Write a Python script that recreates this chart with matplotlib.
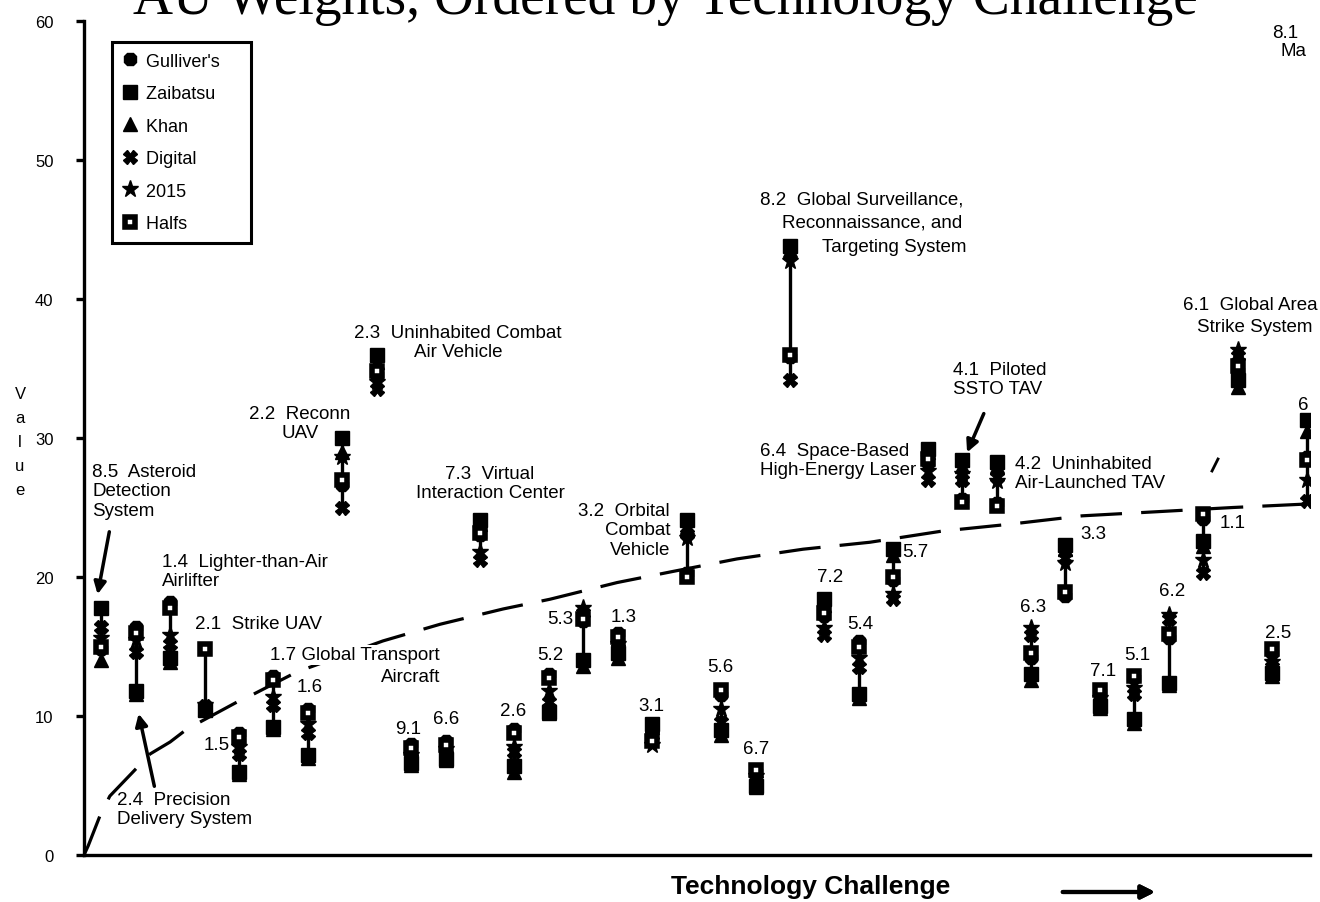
import numpy as np
import matplotlib
matplotlib.use("Agg")
import matplotlib.pyplot as plt
from matplotlib.lines import Line2D

# AU ids, left to right (ordered by technology challenge)
au_ids = ["8.5", "2.4", "1.4", "2.1", "1.5", "1.7", "1.6", "2.2", "2.3", "9.1",
          "6.6", "7.3", "2.6", "5.2", "5.3", "1.3", "3.1", "3.2", "5.6", "6.7",
          "8.2", "7.2", "5.4", "5.7", "6.4", "4.1", "4.2", "6.3", "3.3", "7.1",
          "5.1", "6.2", "1.1", "6.1", "2.5", "6.x"]

# weights per alternate future
gulliver = [14.8, 16.4, 18.2, 10.6, 8.8, 12.9, 10.5, 26.6, 34.5, 8.0,
            8.2, 23.0, 9.1, 13.0, 16.8, 16.0, 8.9, 20.3, 11.5, 6.0,
            35.8, 17.2, 15.4, 19.8, 28.2, 25.6, 25.3, 14.2, 18.6, 11.7,
            12.7, 15.6, 24.2, 34.8, 14.5, 28.6]
zaibatsu = [17.8, 11.8, 14.2, 10.4, 6.0, 9.2, 7.2, 30.0, 36.0, 6.6,
            6.9, 24.1, 6.4, 10.3, 14.0, 14.5, 9.4, 24.1, 9.0, 5.0,
            43.8, 18.4, 11.6, 22.0, 29.2, 28.4, 28.3, 13.0, 22.3, 10.7,
            9.8, 12.4, 22.6, 34.2, 13.1, 31.3]
khan = [14.0, 11.6, 13.9, 10.5, 5.8, 9.1, 7.0, 29.0, 35.5, 6.5,
        6.8, 23.8, 6.0, 10.2, 13.6, 14.2, 9.2, 23.6, 8.6, 4.9,
        43.5, 18.0, 11.3, 21.6, 29.0, 28.0, 28.0, 12.6, 22.0, 10.6,
        9.5, 12.2, 22.2, 33.7, 12.9, 30.5]
digital = [16.4, 14.6, 15.2, 10.7, 7.3, 10.8, 8.8, 25.0, 33.5, 7.0,
           7.2, 21.2, 7.4, 11.0, 17.4, 14.9, 8.6, 23.1, 9.6, 5.4,
           34.2, 15.8, 13.5, 18.4, 27.0, 27.0, 27.2, 15.8, 21.4, 11.0,
           11.6, 17.0, 20.3, 35.9, 13.5, 25.5]
y2015 = [15.6, 15.5, 15.8, 10.8, 7.8, 11.4, 9.4, 28.6, 34.0, 7.2,
         7.6, 21.8, 7.8, 11.8, 17.8, 15.2, 7.9, 22.8, 10.5, 5.7,
         42.7, 16.3, 14.2, 18.8, 27.6, 27.4, 26.9, 16.3, 21.0, 11.3,
         12.0, 17.3, 21.2, 36.3, 13.9, 27.0]
halfs = [15.0, 16.0, 17.8, 14.8, 8.5, 12.6, 10.2, 27.0, 34.8, 7.7,
         7.9, 23.2, 8.8, 12.7, 17.0, 15.7, 8.2, 20.0, 11.9, 6.1,
         36.0, 17.4, 15.0, 20.0, 28.5, 25.4, 25.1, 14.5, 18.9, 11.9,
         12.9, 15.9, 24.5, 35.2, 14.8, 28.4]
scenarios = ["Gulliver's", "Zaibatsu", "Khan", "Digital", "2015", "Halfs"]

# hand-drawn dashed trend curve
trend_x = [-0.5, -0.38, -0.04, 0.25, 0.92, 1.42, 2.0, 2.49, 3.94, 4.32, 5.68,
           8.18, 9.84, 11.67, 13.03, 14.98, 16.6, 18.46, 20.38, 22.32, 24.41,
           26.39, 28.48, 30.68, 32.86, 35.0]
trend_y = [0.0, 0.65, 2.8, 4.24, 5.97, 7.27, 8.13, 9.06, 11.0, 11.44, 13.17,
           15.4, 16.6, 17.7, 18.4, 19.6, 20.4, 21.3, 22.0, 22.5, 23.3,
           23.8, 24.4, 24.7, 25.0, 25.25]

W, H = 1320, 903
SANS = "Liberation Sans"
fig = plt.figure(figsize=(W / 100, H / 100), dpi=100)
ax = fig.add_axes([84 / W, 1 - 856 / H, (1310 - 84) / W, (856 - 22) / H])

x = np.arange(len(au_ids))
vals = np.array([gulliver, zaibatsu, khan, digital, y2015, halfs])
ax.vlines(x, vals.min(axis=0), vals.max(axis=0), color="black", lw=2.4, zorder=2)

ax.plot(trend_x, trend_y, color="black", lw=2.3, dashes=(13, 6), zorder=1)

styles = [
    dict(marker="8", ms=9.5),
    dict(marker="s", ms=9.5),
    dict(marker="^", ms=9.5),
    dict(marker="X", ms=9.5),
    dict(marker="*", ms=12.5),
    dict(marker="s", ms=6.5, mfc="white", mew=4),
]
handles = []
for name, v, st in zip(scenarios, vals, styles):
    st = dict(st)
    st.setdefault("mfc", "black")
    h, = ax.plot(x, v, ls="none", color="black", mec="black", label=name,
                 zorder=3, **st)
    handles.append(h)

ax.set_xlim(-0.5, 35.1)
ax.set_ylim(0, 60)
ax.set_yticks(range(0, 61, 10))
ax.set_xticks([])
for s in ["top", "right"]:
    ax.spines[s].set_visible(False)
for s in ["left", "bottom"]:
    ax.spines[s].set_linewidth(2.4)
ax.tick_params(axis="y", direction="out", length=6, width=2.4, pad=16,
               labelsize=12)
for t in ax.get_yticklabels():
    t.set_family(SANS)

leg = ax.legend(handles, [s + "    " for s in scenarios],
                loc="upper left", bbox_to_anchor=(0.0228, 0.975), borderaxespad=0,
                prop={"family": SANS, "size": 13}, handlelength=0.8,
                handletextpad=0.5, labelspacing=0.86, borderpad=0.6,
                fancybox=False, framealpha=1, edgecolor="black")
leg.get_frame().set_linewidth(2.2)

# arrows pointing at a few AUs
arrow = dict(arrowstyle="-|>", lw=2.5, color="black", mutation_scale=18)
ax.annotate("", xy=(-0.12, 18.56), xytext=(0.25, 23.45), arrowprops=arrow)
ax.annotate("", xy=(1.07, 10.36), xytext=(1.56, 4.75), arrowprops=arrow)
ax.annotate("", xy=(25.11, 28.78), xytext=(25.66, 31.94), arrowprops=arrow)


def label(px, py, s, ha="center", **kw):
    fig.text(px / W, 1 - py / H, s, ha=ha, va="center", fontsize=13.5,
             family=SANS, linespacing=1.2, **kw)


white = dict(facecolor="white", edgecolor="none", pad=1)
label(92, 492, "8.5  Asteroid\nDetection\nSystem", ha="left")
label(162, 572, "1.4  Lighter-than-Air\nAirlifter", ha="left")
label(195, 625, "2.1  Strike UAV", ha="left")
label(270, 656, "1.7 Global Transport", ha="left", bbox=white)
label(440, 678, "Aircraft", ha="right")
label(310, 688, "1.6")
label(217, 745, "1.5")
label(117, 810, "2.4  Precision\nDelivery System", ha="left")
label(300, 424, "2.2  Reconn\nUAV")
label(458, 343, "2.3  Uninhabited Combat\nAir Vehicle")
label(408, 730, "9.1")
label(446, 720, "6.6")
label(490, 484, "7.3  Virtual\nInteraction Center")
label(513, 712, "2.6")
label(550, 655, "5.2")
label(573, 620, "5.3", ha="right")
label(624, 618, "1.3")
label(651, 707, "3.1")
label(670, 531, "3.2  Orbital\nCombat\nVehicle", ha="right", multialignment="right")
label(720, 668, "5.6")
label(756, 750, "6.7")
label(760, 200, "8.2  Global Surveillance,", ha="left")
label(782, 223, "Reconnaissance, and", ha="left")
label(822, 247, "Targeting System", ha="left")
label(830, 578, "7.2")
label(860, 625, "5.4")
label(902, 553, "5.7", ha="left")
label(760, 461, "6.4  Space-Based\nHigh-Energy Laser", ha="left")
label(953, 380, "4.1  Piloted\nSSTO TAV", ha="left")
label(1015, 474, "4.2  Uninhabited\nAir-Launched TAV", ha="left")
label(1033, 608, "6.3")
label(1080, 535, "3.3", ha="left")
label(1103, 672, "7.1")
label(1137, 655, "5.1")
label(1172, 592, "6.2")
label(1220, 524, "1.1", ha="left")
label(1183, 305, "6.1  Global Area", ha="left")
label(1197, 328, "Strike System", ha="left")
label(1278, 633, "2.5")
label(1285, 33, "8.1")
label(1293, 52, "Ma")
label(1303, 406, "6")
fig.add_artist(Line2D([1212 / W, 1218 / W], [1 - 472 / H, 1 - 460 / H],
                      color="black", lw=2))

fig.text(665 / W, 1 - 14 / H, "AU Weights, Ordered by Technology Challenge",
         ha="center", va="baseline", fontsize=40, family="Liberation Serif")
fig.text(20 / W, 1 - 443 / H, "V\na\nl\nu\ne", ha="center", va="center",
         fontsize=12, family=SANS, linespacing=1.75)
fig.text(811 / W, 1 - 887 / H, "Technology Challenge", ha="center", va="center",
         fontsize=19, fontweight="bold", family=SANS)
fig.add_artist(plt.annotate("", xy=(1158 / W, 1 - 893 / H), xytext=(1060 / W, 1 - 893 / H),
                            xycoords="figure fraction", textcoords="figure fraction",
                            arrowprops=dict(arrowstyle="-|>", lw=3, color="black",
                                            mutation_scale=20)))

fig.savefig("out.png", dpi=100)
